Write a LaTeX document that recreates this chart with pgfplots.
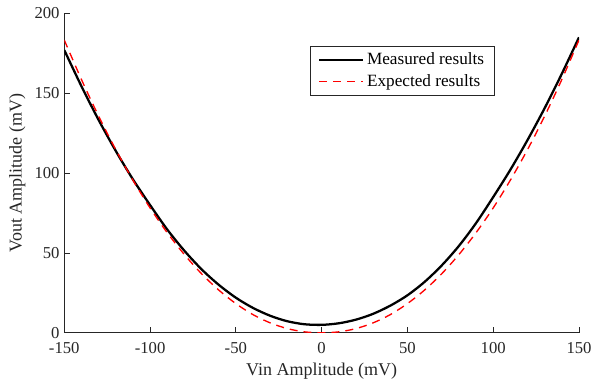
\documentclass[border=0pt]{standalone}
\usepackage{fontspec}
\setmainfont{Liberation Serif}
\usepackage{pgfplots}
\pgfplotsset{compat=1.18}
\begin{document}
\begin{tikzpicture}
\begin{axis}[
  scale only axis, width=386pt, height=239.6pt,
  xmin=-150, xmax=150, ymin=0, ymax=200,
  axis x line*=bottom, axis y line*=left,
  axis line style={black!85, line width=0.6pt, -},
  tick style={black!85, line width=0.6pt},
  tick align=inside, major tick length=4.5pt,
  xtick={-150,-100,-50,0,50,100,150}, xticklabels={-150,-100,-50,0,50,100,150},
  ytick={0,50,100,150,200}, yticklabels={0,50,100,150,200},
  ticklabel style={font=\fontsize{12.5}{15}\selectfont, text=black!85},
  xticklabel style={yshift=-4pt},
  xlabel={Vin Amplitude (mV)}, ylabel={Vout Amplitude (mV)},
  label style={font=\fontsize{13.5}{16}\selectfont, text=black!85},
  legend style={at={(0.837,0.898)}, anchor=north east, draw=black!85, line width=0.5pt,
    font=\fontsize{12.9}{15}\selectfont, inner xsep=6pt, inner ysep=3pt, row sep=2pt,
    cells={anchor=west}},
  legend image code/.code={\draw[#1] (0pt,0pt) -- (33pt,0pt);},
]
\coordinate (ll) at (rel axis cs:0,0);
\coordinate (ur) at (rel axis cs:1,1);
\addplot[black, line width=1.7pt, smooth] coordinates {
(-150,177.0) (-140,154.4) (-130,133.3) (-120,113.9) (-110,96.1) (-100,80.0)
(-90,64.7) (-80,51.4) (-70,39.8) (-60,30.1) (-50,22.0) (-40,15.6) (-30,10.7)
(-20,7.26) (-10,5.38) (0,5.0) (10,5.98) (20,8.26) (30,11.9) (40,17.0) (50,23.5)
(60,31.9) (70,42.2) (80,54.4) (90,68.7) (100,85.0) (110,102.1) (120,120.7)
(130,140.7) (140,162.2) (150,185.0)
};
\addlegendentry{Measured results}
\addplot[red, line width=1pt, dash pattern=on 6pt off 4.5pt, smooth] coordinates {
(-150,183.3) (-140,158.6) (-130,135.7) (-120,114.7) (-110,95.6) (-100,78.2)
(-90,62.7) (-80,49.0) (-70,37.0) (-60,26.8) (-50,18.3) (-40,11.4) (-30,6.24)
(-20,2.66) (-10,0.62) (0,0) (10,0.62) (20,2.66) (30,6.24) (40,11.4) (50,18.3)
(60,26.8) (70,37.0) (80,49.0) (90,62.7) (100,78.2) (110,95.6) (120,114.7)
(130,135.7) (140,158.6) (150,183.3)
};
\addlegendentry{Expected results}
\end{axis}
\pgfresetboundingbox
\path ([xshift=-48.2pt,yshift=-40pt]ll) rectangle ([xshift=10.5pt,yshift=10pt]ur);
\end{tikzpicture}
\end{document}
